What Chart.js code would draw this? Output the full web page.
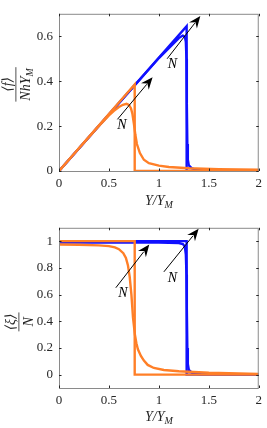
<!DOCTYPE html>
<html>
<head>
<meta charset="utf-8">
<script src="https://cdn.jsdelivr.net/npm/chart.js@4.4.0/dist/chart.umd.min.js"></script>
<style>
  html, body { margin: 0; padding: 0; background: #fff; }
  .box { position: absolute; left: 0; width: 267px; height: 214px; }
  #top { top: 0; }
  #bot { top: 214px; }
</style>
</head>
<body>
<div class="box" id="top"><canvas id="forceChart" width="267" height="214"></canvas></div>
<div class="box" id="bot"><canvas id="fracChart" width="267" height="214"></canvas></div>
<script>
// x ticks shared by both panels
const xTicks = [0, 0.5, 1, 1.5, 2];

// --- top panel: <f>/(N h Y_M) vs Y/Y_M ---
const fTicks = [0, 0.2, 0.4, 0.6];
const fBlueStepX = [0, 1.278, 1.278, 2];
const fBlueStepY = [0, 0.645, 0, 0];
const fBlueSoftX = [0, 1.0, 1.2, 1.24, 1.26, 1.27, 1.276, 1.28, 1.285, 1.29, 1.3, 1.33, 1.37, 1.42, 2];
const fBlueSoftY = [0, 0.503, 0.592, 0.603, 0.598, 0.575, 0.5, 0.3, 0.12, 0.05, 0.025, 0.012, 0.006, 0.003, 0.002];
const fOrangeStepX = [0, 0.758, 0.758, 2];
const fOrangeStepY = [0, 0.385, 0, 0];
const fOrangeSoftX = [0, 0.2, 0.4, 0.5, 0.55, 0.6, 0.64, 0.676, 0.7, 0.72, 0.735, 0.75, 0.765, 0.78, 0.81, 0.85, 0.9, 1.0, 1.1, 1.3, 1.6, 2];
const fOrangeSoftY = [0, 0.101, 0.201, 0.248, 0.268, 0.285, 0.295, 0.299, 0.294, 0.28, 0.255, 0.21, 0.16, 0.12, 0.08, 0.05, 0.035, 0.024, 0.018, 0.012, 0.008, 0.006];
const fArrowFrom = [[0.585, 0.23], [1.083, 0.50]];
const fArrowTo = [[0.937, 0.417], [1.415, 0.69]];
const fLabelAt = [[0.63, 0.205], [1.135, 0.475]];

// --- bottom panel: <xi>/N vs Y/Y_M ---
const xiTicks = [0, 0.2, 0.4, 0.6, 0.8, 1];
const xiBlueStepX = [0, 1.278, 1.278, 2];
const xiBlueStepY = [1, 1, 0, 0];
const xiBlueSoftX = [0, 1.0, 1.2, 1.24, 1.26, 1.27, 1.276, 1.28, 1.285, 1.29, 1.3, 1.33, 1.37, 1.42, 2];
const xiBlueSoftY = [0.99, 0.99, 0.986, 0.978, 0.96, 0.9, 0.75, 0.5, 0.2, 0.08, 0.035, 0.015, 0.007, 0.003, 0.001];
const xiOrangeStepX = [0, 0.758, 0.758, 2];
const xiOrangeStepY = [1, 1, 0, 0];
const xiOrangeSoftX = [0, 0.2, 0.4, 0.5, 0.56, 0.6, 0.644, 0.67, 0.69, 0.708, 0.725, 0.741, 0.76, 0.775, 0.79, 0.82, 0.85, 0.888, 0.95, 1.05, 1.2, 1.5, 2];
const xiOrangeSoftY = [0.975, 0.973, 0.968, 0.963, 0.953, 0.94, 0.91, 0.875, 0.82, 0.733, 0.6, 0.427, 0.3, 0.235, 0.19, 0.14, 0.105, 0.073, 0.05, 0.035, 0.025, 0.014, 0.006];
const xiArrowFrom = [[0.569, 0.651], [1.05, 0.77]];
const xiArrowTo = [[0.904, 0.974], [1.398, 1.092]];
const xiLabelAt = [[0.64, 0.61], [1.135, 0.725]];

const BLUE = '#1010ff';
const ORANGE = '#ff7f27';
const AXIS = '#8a8a8a';
const TEXT = '#262626';
const SERIF = '"Liberation Serif", "DejaVu Serif", serif';

const pts = (xs, ys) => xs.map((x, i) => ({ x: x, y: ys[i] }));

function line(xs, ys, color) {
  return {
    data: pts(xs, ys),
    borderColor: color,
    borderWidth: 2.4,
    pointRadius: 0,
    showLine: true,
    fill: false,
    tension: 0
  };
}

// frame, inward ticks, titles, arrows
const decor = {
  id: 'decor',
  afterDraw(chart, args, o) {
    const c = chart.ctx;
    const a = chart.chartArea;
    const xs = chart.scales.x, ys = chart.scales.y;
    c.save();
    c.strokeStyle = AXIS;
    c.lineWidth = 1;
    c.strokeRect(a.left + 0.5, a.top + 0.5, a.right - a.left - 1, a.bottom - a.top);
    c.strokeStyle = TEXT;
    xTicks.forEach(v => {
      const px = Math.round(xs.getPixelForValue(v)) + 0.5;
      c.beginPath();
      c.moveTo(px, a.bottom); c.lineTo(px, a.bottom - 2.5);
      c.moveTo(px, a.top); c.lineTo(px, a.top + 2.5);
      c.stroke();
    });
    o.yTicks.forEach(v => {
      const py = Math.round(ys.getPixelForValue(v)) + 0.5;
      c.beginPath();
      c.moveTo(a.left, py); c.lineTo(a.left + 2.5, py);
      c.moveTo(a.right, py); c.lineTo(a.right - 2.5, py);
      c.stroke();
    });

    // arrows
    c.fillStyle = '#000';
    c.strokeStyle = '#000';
    o.from.forEach((p, i) => {
      const x0 = xs.getPixelForValue(p[0]), y0 = ys.getPixelForValue(p[1]);
      const x1 = xs.getPixelForValue(o.to[i][0]), y1 = ys.getPixelForValue(o.to[i][1]);
      const ang = Math.atan2(y1 - y0, x1 - x0);
      const hl = 12, hw = 5;
      const bx = x1 - hl * Math.cos(ang), by = y1 - hl * Math.sin(ang);
      c.lineWidth = 1;
      c.beginPath(); c.moveTo(x0, y0); c.lineTo(bx + 3 * Math.cos(ang), by + 3 * Math.sin(ang)); c.stroke();
      c.beginPath();
      c.moveTo(x1, y1);
      c.lineTo(bx + hw * Math.sin(ang), by - hw * Math.cos(ang));
      c.lineTo(bx + 4 * Math.cos(ang), by + 4 * Math.sin(ang));
      c.lineTo(bx - hw * Math.sin(ang), by + hw * Math.cos(ang));
      c.closePath();
      c.fill();
    });
    c.font = 'italic 14px ' + SERIF;
    c.textAlign = 'center';
    c.textBaseline = 'middle';
    o.labels.forEach(p => {
      c.fillText('N', xs.getPixelForValue(p[0]), ys.getPixelForValue(p[1]));
    });

    // x title: Y/Y_M
    c.fillStyle = TEXT;
    const tx = (a.left + a.right) / 2, ty = a.bottom + o.xTitleDy;
    c.font = 'italic 14px ' + SERIF;
    c.textAlign = 'left';
    c.textBaseline = 'alphabetic';
    const s1 = 'Y/Y';
    const w1 = c.measureText(s1).width;
    c.font = 'italic 10px ' + SERIF;
    const w2 = c.measureText('M').width;
    const sx = tx - (w1 + w2) / 2;
    c.font = 'italic 14px ' + SERIF;
    c.fillText(s1, sx, ty);
    c.font = 'italic 10px ' + SERIF;
    c.fillText('M', sx + w1, ty + 3);

    // y title: fraction, rotated
    c.translate(o.yTitleX, (a.top + a.bottom) / 2 + o.yTitleDy);
    c.rotate(-Math.PI / 2);
    c.font = 'italic 14px ' + SERIF;
    c.textAlign = 'center';
    const num = o.num;
    const nw = c.measureText(num).width;
    let dw;
    if (o.denSub) {
      const dMain = c.measureText(o.den).width;
      c.font = 'italic 10px ' + SERIF;
      const dSub = c.measureText(o.denSub).width;
      dw = dMain + dSub;
      c.font = 'italic 14px ' + SERIF;
      c.textAlign = 'left';
      c.fillText(o.den, -dw / 2, 14);
      c.font = 'italic 10px ' + SERIF;
      c.fillText(o.denSub, -dw / 2 + dMain, 17);
    } else {
      dw = c.measureText(o.den).width;
      c.fillText(o.den, 0, 14);
    }
    c.font = 'italic 14px ' + SERIF;
    c.textAlign = 'center';
    c.fillText(num, 0, -4);
    const bw = Math.max(nw, dw) + 2;
    c.fillRect(-bw / 2, -0.5, bw, 0.8);
    c.restore();
  }
};

function makeChart(id, datasets, yMin, yMax, yTicks, padTop, xHeight, deco) {
  return new Chart(document.getElementById(id), {
    type: 'scatter',
    data: { datasets: datasets },
    options: {
      responsive: false,
      animation: false,
      layout: { padding: { top: padTop, right: 3, left: 0, bottom: 0 } },
      plugins: { legend: { display: false }, tooltip: { enabled: false }, decor: deco },
      scales: {
        x: {
          type: 'linear', min: 0, max: 2,
          grid: { display: false, drawTicks: false },
          border: { display: false },
          afterBuildTicks: s => { s.ticks = xTicks.map(v => ({ value: v })); },
          ticks: { color: TEXT, padding: 5, font: { family: SERIF, size: 13 }, maxRotation: 0,
                   callback: v => String(v) },
          afterFit: s => { s.height = xHeight; }
        },
        y: {
          type: 'linear', min: yMin, max: yMax,
          grid: { display: false, drawTicks: false },
          border: { display: false },
          afterBuildTicks: s => { s.ticks = yTicks.map(v => ({ value: v })); },
          ticks: { color: TEXT, padding: 6, font: { family: SERIF, size: 13 },
                   callback: v => String(v) },
          afterFit: s => { s.width = 59; }
        }
      }
    },
    plugins: [decor]
  });
}

// first dataset is painted on top, so orange goes first
makeChart('forceChart', [
  line(fOrangeStepX, fOrangeStepY, ORANGE),
  line(fOrangeSoftX, fOrangeSoftY, ORANGE),
  line(fBlueStepX, fBlueStepY, BLUE),
  line(fBlueSoftX, fBlueSoftY, BLUE)
], 0, 0.7, fTicks, 1.5, 43, {
  yTicks: fTicks, from: fArrowFrom, to: fArrowTo, labels: fLabelAt,
  xTitleDy: 34, yTitleX: 16, yTitleDy: -8, num: '\u27E8f\u27E9', den: 'NhY', denSub: 'M'
});

makeChart('fracChart', [
  line(xiOrangeStepX, xiOrangeStepY, ORANGE),
  line(xiOrangeSoftX, xiOrangeSoftY, ORANGE),
  line(xiBlueStepX, xiBlueStepY, BLUE),
  line(xiBlueSoftX, xiBlueSoftY, BLUE)
], -0.1, 1.1, xiTicks, 4.7, 40, {
  yTicks: xiTicks, from: xiArrowFrom, to: xiArrowTo, labels: xiLabelAt,
  xTitleDy: 33, yTitleX: 19, yTitleDy: 14, num: '\u27E8\u03BE\u27E9', den: 'N', denSub: ''
});
</script>
</body>
</html>
